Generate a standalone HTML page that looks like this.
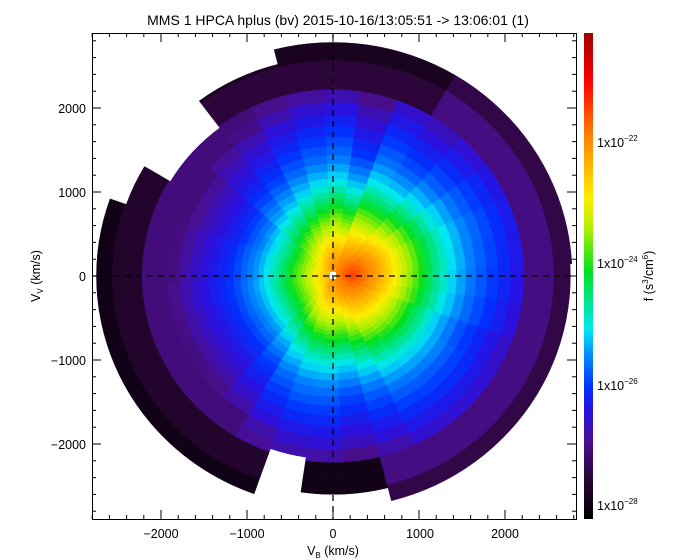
<!DOCTYPE html>
<html><head><meta charset="utf-8"><style>
body{margin:0;background:#fff;width:682px;height:560px;overflow:hidden}
svg{display:block}
text{font-family:"Liberation Sans",sans-serif;fill:#000}
</style></head><body>
<svg id="s" width="682" height="560" xmlns="http://www.w3.org/2000/svg">
<defs>
<clipPath id="cp"><rect x="92" y="33" width="484" height="486"/></clipPath>
<linearGradient id="cb" x1="0" y1="1" x2="0" y2="0">
<stop offset="0" stop-color="#000000"/>
<stop offset="0.08" stop-color="#2a0535"/>
<stop offset="0.16" stop-color="#4a0e90"/>
<stop offset="0.22" stop-color="#2a10e0"/>
<stop offset="0.27" stop-color="#0030ff"/>
<stop offset="0.34" stop-color="#0090ff"/>
<stop offset="0.39" stop-color="#00e8f0"/>
<stop offset="0.51" stop-color="#00e020"/>
<stop offset="0.60" stop-color="#b0f000"/>
<stop offset="0.66" stop-color="#ffee00"/>
<stop offset="0.79" stop-color="#ff8000"/>
<stop offset="0.90" stop-color="#ff0000"/>
<stop offset="1" stop-color="#a00000"/>
</linearGradient>
</defs>
<g id="data" clip-path="url(#cp)"></g>
<g stroke="#000" stroke-width="1.3" stroke-dasharray="6,5">
<line x1="333" y1="33" x2="333" y2="519"/>
<line x1="92" y1="276" x2="576" y2="276"/>
</g>
<rect x="92.5" y="33.5" width="484" height="486" fill="none" stroke="#000"/>
<g id="ticks" stroke="#000" stroke-width="1"></g>
<rect x="584" y="33" width="9" height="486" fill="url(#cb)"/>
<text x="338" y="25" font-size="14" text-anchor="middle">MMS 1 HPCA hplus (bv) 2015-10-16/13:05:51 -&gt; 13:06:01 (1)</text>
<g font-size="12.5">
<text x="161" y="538" text-anchor="middle">−2000</text>
<text x="247" y="538" text-anchor="middle">−1000</text>
<text x="333" y="538" text-anchor="middle">0</text>
<text x="420" y="538" text-anchor="middle">1000</text>
<text x="505" y="538" text-anchor="middle">2000</text>
<text x="86" y="113" text-anchor="end">2000</text>
<text x="86" y="197" text-anchor="end">1000</text>
<text x="86" y="281" text-anchor="end">0</text>
<text x="86" y="365" text-anchor="end">−1000</text>
<text x="86" y="449" text-anchor="end">−2000</text>
<text x="333" y="555" text-anchor="middle">V<tspan font-size="8" dy="3">B</tspan><tspan dy="-3"> (km/s)</tspan></text>
<text transform="translate(40,276) rotate(-90)" text-anchor="middle">V<tspan font-size="8" dy="3">V</tspan><tspan dy="-3"> (km/s)</tspan></text>
<text x="597" y="147">1x10<tspan font-size="8" dy="-6">−22</tspan></text>
<text x="597" y="268">1x10<tspan font-size="8" dy="-6">−24</tspan></text>
<text x="597" y="390">1x10<tspan font-size="8" dy="-6">−26</tspan></text>
<text x="597" y="510">1x10<tspan font-size="8" dy="-6">−28</tspan></text>
<text transform="translate(653,276) rotate(-90)" text-anchor="middle">f (s<tspan font-size="8" dy="-5">3</tspan><tspan dy="5">/cm</tspan><tspan font-size="8" dy="-5">6</tspan><tspan dy="5">)</tspan></text>
</g>
</svg>
<script>
(function(){
var stops=[[0,[0,0,0]],[0.08,[42,5,53]],[0.16,[74,14,144]],[0.22,[42,16,224]],[0.27,[0,48,255]],[0.34,[0,144,255]],[0.39,[0,232,240]],[0.51,[0,224,32]],[0.60,[176,240,0]],[0.66,[255,238,0]],[0.79,[255,128,0]],[0.90,[255,0,0]],[1,[160,0,0]]];
function cm(f){f=Math.max(0,Math.min(1,f));for(var i=1;i<stops.length;i++){if(f<=stops[i][0]){var a=stops[i-1],b=stops[i],t=(f-a[0])/(b[0]-a[0]);return 'rgb('+[0,1,2].map(function(k){return Math.round(a[1][k]+(b[1][k]-a[1][k])*t)}).join(',')+')';}}return 'rgb(160,0,0)';}
function lf(l){return (l+28.23)/8.03;}
var prof=[[0,-21.4],[300,-22.3],[500,-23.0],[700,-23.7],[850,-24.3],[1100,-25.1],[1400,-25.75],[1800,-26.3],[2050,-26.65],[2150,-26.9],[3000,-27.2]];
function P(d){for(var i=1;i<prof.length;i++){if(d<=prof[i][0]){var a=prof[i-1],b=prof[i];return a[1]+(b[1]-a[1])*(d-a[0])/(b[0]-a[0]);}}return -27.2;}
function outerOf(a){
 if(a<100)return 2780; if(a<129)return 2600; if(a<144)return 2200; if(a<150)return 2350;
 if(a<157)return 2550; if(a<246)return 2750; if(a<262)return 2180; if(a<285)return 2600; return 2760;}
function ringVal(a,r){
 var base;
 if(a>=150&&a<250)base=(r>2450?-27.95:-27.7);
 else if(a>=60&&a<150)base=(r>2450?-27.85:-27.55);
 else if(a>=250&&a<285)base=-27.95;
 else base=(r>2450?-27.45:-27.05);
 return base;}
var cx=333,cy=276,sx=0.086,sy=0.084;
var edges=[20];while(edges[edges.length-1]<2900){var e=edges[edges.length-1];edges.push(e+Math.max(45,e*0.075));}
var h='';
var bias=[0.1,0.15,0.1,0,-0.1,0.05,-0.25,0.1,0.05,-0.05,-0.2,-0.3,-0.45,-0.45,-0.35,-0.3,-0.25,-0.3,-0.35,-0.35,-0.2,0.05,0.15,0.1,-0.1,0,0.1,0.05,0,-0.1,0,0.05];
for(var s=0;s<32;s++){
 var ad=s*11.25+3;
 var a0=ad*Math.PI/180,a1=(ad+11.25)*Math.PI/180,amd=ad+5.625;
 var out=outerOf(amd);
 var b=bias[s];
 for(var k=0;k<edges.length-1;k++){
  var r0=edges[k],r1=Math.min(edges[k+1],out);if(r0>=out)break;
  var rm=(r0+r1)/2,am=(a0+a1)/2;
  var x=rm*Math.cos(am)-230,y=rm*Math.sin(am)-20;var d=Math.sqrt(x*x+y*y);
  var l;
  if(r0>=2150)l=ringVal(amd,r0);
  else{l=P(d)+b*Math.min(1,d/700);l=Math.min(l,-21.3);l=Math.max(l,-27.1);}
  var c=cm(lf(l));
  var p=function(r,a){return (cx+r*sx*Math.cos(a)).toFixed(1)+','+(cy-r*sy*Math.sin(a)).toFixed(1);};
  h+='<path d="M'+p(r0,a0)+' L'+p(r1,a0)+' A'+(r1*sx).toFixed(1)+','+(r1*sy).toFixed(1)+' 0 0 0 '+p(r1,a1)+' L'+p(r0,a1)+' A'+(r0*sx).toFixed(1)+','+(r0*sy).toFixed(1)+' 0 0 1 '+p(r0,a0)+'Z" fill="'+c+'" stroke="'+c+'" stroke-width="0.5"/>';
 }
}
h+='<rect x="330" y="272" width="6" height="7" fill="#fff"/>';
document.getElementById('data').innerHTML=h;
var t='';
for(var v=-2800;v<=2800;v+=200){var X=cx+v*sx;if(X<92||X>576)continue;var L=(v%1000==0)?9:4;t+='<line x1="'+X+'" y1="519" x2="'+X+'" y2="'+(519-L)+'"/><line x1="'+X+'" y1="33" x2="'+X+'" y2="'+(33+L)+'"/>';}
for(var v=-2800;v<=2800;v+=200){var Y=cy-v*sy;if(Y<33||Y>519)continue;var L=(v%1000==0)?9:4;t+='<line x1="92" y1="'+Y+'" x2="'+(92+L)+'" y2="'+Y+'"/><line x1="576" y1="'+Y+'" x2="'+(576-L)+'" y2="'+Y+'"/>';}
document.getElementById('ticks').innerHTML=t;
})();
</script>
</body></html>
